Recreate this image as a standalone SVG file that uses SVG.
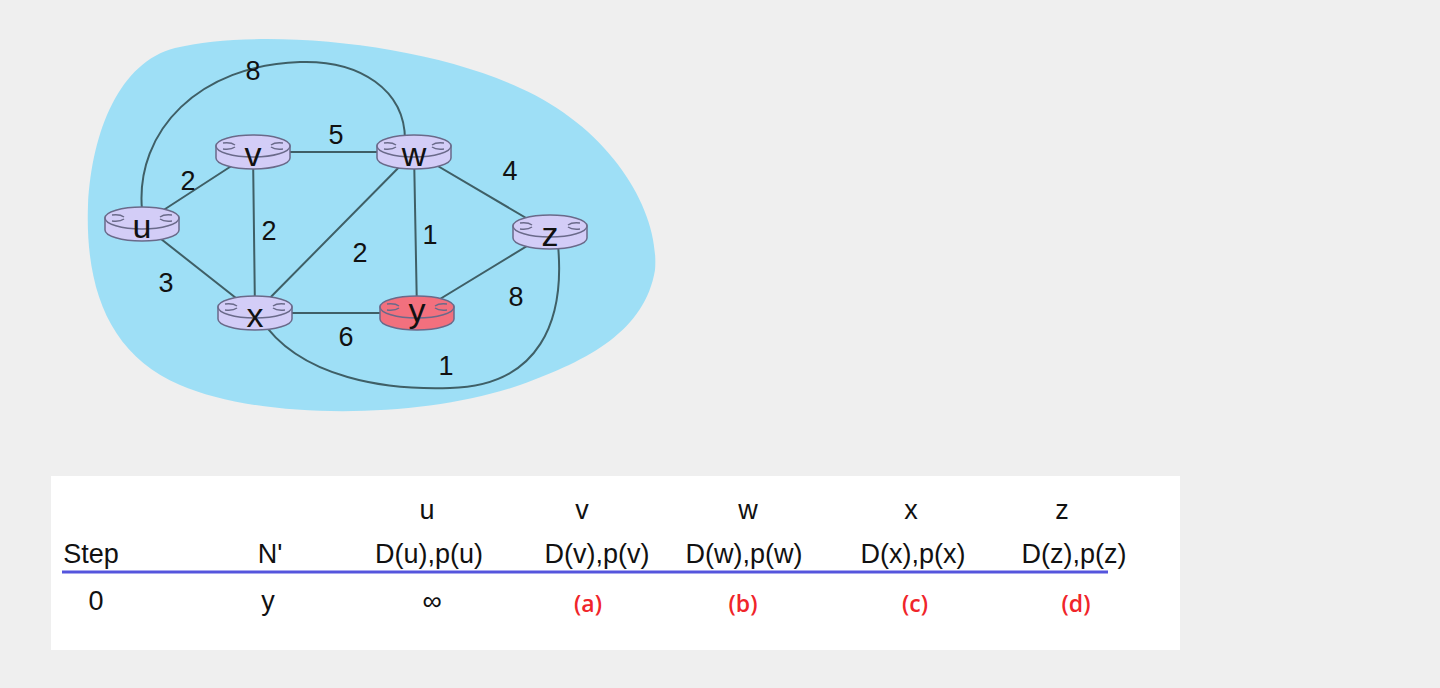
<svg xmlns="http://www.w3.org/2000/svg" width="1440" height="688" viewBox="0 0 1440 688">
<style>
.e{stroke:#3f5f66;stroke-width:2;fill:none}
.w{font-family:"Liberation Sans",Arial,sans-serif;font-size:27px;fill:#111;text-anchor:middle}
.n{font-family:"Liberation Sans",Arial,sans-serif;font-size:34px;fill:#111;text-anchor:middle}
.t{font-family:"Liberation Sans",Arial,sans-serif;font-size:27px;fill:#111;text-anchor:middle}
.r{font-family:"Open Sans",sans-serif;font-size:23px;font-weight:600;fill:#f0252a;text-anchor:middle}
.rb{stroke:#6a6a8a;stroke-width:1.5}
.sw{stroke:#6a6a8a;stroke-width:1.5;fill:none}
</style>
<rect width="1440" height="688" fill="#efefef"/>
<path d="M175,48 C260,28 420,42 520,88 C610,128 660,210 655,270 C645,330 590,360 520,385 C420,420 260,420 180,385 C110,355 85,290 88,205 C92,130 120,62 175,48 Z" fill="#9edff6"/>
<g id="connectors">
<path class="e" d="M142,224 L253,152 M142,224 L255,313 M253,152 L414,152 M253,152 L255,313 M414,152 L255,313 M414,152 L417,313 M414,152 L550,232 M255,313 L417,313 M417,313 L550,232"/>
<path class="e" d="M142,210 C135,130 200,65 300,62 C360,60 405,90 405,140"/>
<path class="e" d="M260,318 C300,380 390,390 450,388 C540,386 565,320 558,245"/>
</g>
<g class="w">
<text x="253" y="80">8</text><text x="336" y="144">5</text><text x="188" y="190">2</text>
<text x="510" y="180">4</text><text x="269" y="240">2</text><text x="430" y="244">1</text>
<text x="360" y="262">2</text><text x="166" y="292">3</text><text x="516" y="306">8</text>
<text x="346" y="346">6</text><text x="446" y="375">1</text>
</g>
<defs>
<g id="rt">
<path d="M-37,-6 L-37,6 A37,11 0 0 0 37,6 L37,-6 Z" class="rb"/>
<ellipse cx="0" cy="-6" rx="37" ry="11" class="rb"/>
<path class="sw" d="M-30,-9 q8,-1 12,2 M30,-9 q-8,-1 -12,2 M-30,-3 q8,1 12,-2 M30,-3 q-8,1 -12,-2"/>
</g>
</defs>
<g id="u" fill="#d3cdf7"><use href="#rt" x="142" y="224"/><text class="n" x="142" y="238">u</text></g>
<g id="v" fill="#d3cdf7"><use href="#rt" x="253" y="152"/><text class="n" x="253" y="166">v</text></g>
<g id="w" fill="#d3cdf7"><use href="#rt" x="414" y="152"/><text class="n" x="414" y="166">w</text></g>
<g id="z" fill="#d3cdf7"><use href="#rt" x="550" y="232"/><text class="n" x="550" y="246">z</text></g>
<g id="x" fill="#d3cdf7"><use href="#rt" x="255" y="313"/><text class="n" x="255" y="327">x</text></g>
<g id="y" fill="#f2707e"><use href="#rt" x="417" y="313"/><text class="n" x="417" y="322">y</text></g>
<g id="table">
<rect x="51" y="476" width="1129" height="174" fill="#fff"/>
<g class="t">
<text x="427" y="519">u</text><text x="582" y="519">v</text><text x="748" y="519">w</text><text x="911" y="519">x</text><text x="1062" y="519">z</text>
<text x="91" y="563">Step</text><text x="270" y="563">N'</text><text x="429" y="563">D(u),p(u)</text><text x="597" y="563">D(v),p(v)</text><text x="744" y="563">D(w),p(w)</text><text x="913" y="563">D(x),p(x)</text><text x="1074" y="563">D(z),p(z)</text>
<text x="96" y="610">0</text><text x="268" y="610">y</text><text x="432" y="610">∞</text>
</g>
<line x1="62" y1="572" x2="1108" y2="572" stroke="#5555dd" stroke-width="3"/>
<g class="r"><text x="588" y="612">(a)</text><text x="743" y="612">(b)</text><text x="915" y="612">(c)</text><text x="1076" y="612">(d)</text></g>
</g>
</svg>
